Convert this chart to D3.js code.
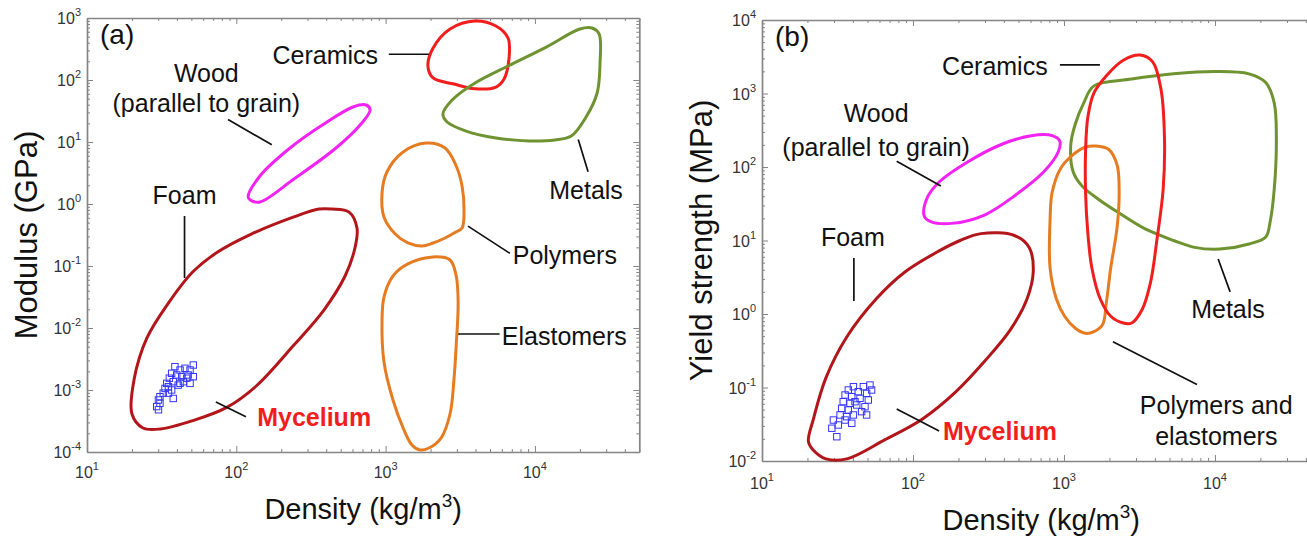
<!DOCTYPE html>
<html>
<head>
<meta charset="utf-8">
<script src="https://cdn.jsdelivr.net/npm/d3@7"></script>
<style>
  body { margin: 0; background: #fff; }
  svg { display: block; font-family: "Liberation Sans", Arial, sans-serif; }
</style>
</head>
<body>
<script>
// ---------- panel (a): modulus (GPa) vs density (kg/m3) ----------
const foamA = [[437,0.83],[569,0.74],[643,0.41],[623,0.195],[535,0.069],[386,0.0195],[243,0.0053],[136,0.00116],[87,0.00053],[51,0.00032],[31,0.000235],[23.7,0.000244],[20,0.00041],[20.7,0.0015],[25.2,0.0069],[35,0.025],[51,0.08],[75,0.168],[127,0.33],[243,0.62],[358,0.83]]
const ceramicsA = [[2080,328],[2700,665],[3970,895],[5480,743],[6600,476],[6700,218],[6210,104],[5480,77],[3970,72],[2870,86],[2080,108],[1920,168]]
const metalsA = [[2420,28.3],[2790,47.5],[3970,89.5],[6600,168],[11900,340],[20000,665],[24100,690],[26900,552],[27300,195],[26100,61.7],[22000,25.3],[17500,12.5],[13600,10.8],[9120,10.4],[5480,11.6],[3460,15],[2580,21]]
const woodA = [[124,1.16],[144,1.08],[243,2.53],[465,8.0],[684,19.5],[787,32.8],[740,39.5],[605,36.7],[386,19.5],[229,8.0],[144,2.83],[120,1.3]]
const polymersA = [[1870,9.6],[2500,8.0],[2970,4.1],[3250,1.95],[3350,0.8],[3250,0.41],[2870,0.34],[2500,0.283],[2080,0.235],[1750,0.21],[1410,0.235],[1160,0.328],[975,0.617],[946,1.5],[1020,3.28],[1310,6.9]]
const elastomersA = [[2080,0.14],[2700,0.125],[2970,0.069],[3060,0.0253],[2970,0.0053],[2870,0.0015],[2700,0.00041],[2350,0.000168],[1950,0.000116],[1700,0.000108],[1500,0.00013],[1310,0.000244],[1120,0.00069],[975,0.00283],[946,0.013],[975,0.0316],[1120,0.069],[1410,0.108]]
const myceliumA = [[51.5,0.00253],[49,0.0021],[38.8,0.00238],[42,0.0021],[45.3,0.00224],[47.6,0.00175],[51.5,0.00164],[43.1,0.00164],[39.9,0.00175],[36.9,0.00186],[35.6,0.00155],[37.8,0.00136],[44.2,0.00136],[49,0.00128],[40.8,0.0012],[34.2,0.00128],[33.3,0.00106],[36.9,0.001],[32.4,0.00089],[35.1,0.00089],[30.8,0.00078],[37.8,0.00073],[30.1,0.00069],[30.8,0.00061],[29.3,0.00054],[30.1,0.00048],[46.6,0.00155],[42,0.00128],[35.1,0.00113]]
const xTicksA = [10, 100, 1000, 10000]
const yTicksA = [1e-4, 1e-3, 1e-2, 1e-1, 1, 10, 100, 1000]
const labelsA = [
  {t: "Ceramics", at: [890, 250], anchor: "end"},
  {t: "Wood", at: [63, 130], anchor: "middle"},
  {t: "(parallel to grain)", at: [63, 42], anchor: "middle"},
  {t: "Foam", at: [45, 1.4], anchor: "middle"},
  {t: "Metals", at: [22000, 1.7], anchor: "middle"},
  {t: "Polymers", at: [7100, 0.15], anchor: "start"},
  {t: "Elastomers", at: [6000, 0.0074], anchor: "start"},
  {t: "Mycelium", at: [138, 0.00037], anchor: "start", red: true}
]
const leadersA = [
  [[1050,260],[1950,260]],
  [[88,23],[173,9]],
  [[45,0.64],[45,0.064]],
  [[19500,11],[22700,3.3]],
  [[3560,0.44],[6800,0.16]],
  [[3060,0.008],[5800,0.008]],
  [[73,0.00064],[116,0.00037]]
]

// ---------- panel (b): yield strength (MPa) vs density (kg/m3) ----------
const foamB = [[282,12.4],[470,11.7],[588,8.06],[626,3.78],[569,1.6],[441,0.608],[300,0.231],[192,0.0873],[115,0.0371],[64.9,0.0194],[36.5,0.0107],[26.5,0.0107],[21.9,0.014],[20.3,0.0184],[21.9,0.0371],[26.5,0.135],[36.5,0.49],[57,1.6],[89.3,3.78],[149,7.22],[205,10]]
const ceramicsB = [[3200,3340],[3870,2690],[4390,1140],[4630,252],[4540,50.2],[4120,10],[3750,2.74],[3300,1.16],[2810,0.755],[2470,0.755],[2040,0.933],[1740,1.6],[1530,4.23],[1440,12.4],[1390,45.1],[1390,164],[1440,482],[1580,1020],[1910,1750],[2470,2840]]
const metalsB = [[1580,1270],[2810,1570],[5320,1850],[10100,1990],[16800,1850],[21700,1410],[24700,740],[25500,252],[24700,50.2],[23100,17.1],[21700,11.2],[16800,8.96],[10800,7.64],[7330,8.06],[5320,10],[3400,14.6],[2320,23.6],[1690,36.4],[1310,55.8],[1150,86],[1110,204],[1190,388],[1350,740]]
const woodB = [[119,21.2],[131,18.1],[180,17.1],[300,22.4],[470,40.5],[735,86],[920,164],[937,226],[835,267],[607,267],[388,204],[233,119],[149,62.4],[123,36.4]]
const polyElastB = [[1630,193],[1980,173],[2250,106],[2320,45.1],[2250,15.3],[2040,4.23],[1910,1.44],[1800,0.715],[1580,0.576],[1390,0.546],[1190,0.641],[1010,0.933],[891,1.6],[809,4.23],[809,19.1],[835,45.1],[950,95.7],[1150,147.5],[1390,187]]
const myceliumB = [[51.9,0.108],[46.9,0.1026],[40.3,0.1026],[37.3,0.0925],[43.4,0.0877],[49.3,0.0834],[35.5,0.0791],[39.3,0.075],[44.6,0.0713],[50.6,0.0676],[34.5,0.0641],[38.3,0.061],[42.4,0.0578],[48.1,0.0548],[33.7,0.0521],[37.3,0.0494],[45.7,0.0469],[32.9,0.0423],[40.3,0.0423],[49.3,0.0423],[29.7,0.0361],[35.5,0.0361],[32,0.0309],[39.3,0.0326],[29,0.0279],[31.3,0.0214],[53.2,0.0925],[41.3,0.0641],[36.4,0.0401]]
const xTicksB = [10, 100, 1000, 10000]
const yTicksB = [1e-2, 1e-1, 1, 10, 100, 1000, 10000]
const labelsB = [
  {t: "Ceramics", at: [780, 2400], anchor: "end"},
  {t: "Wood", at: [57, 540], anchor: "middle"},
  {t: "(parallel to grain)", at: [57, 190], anchor: "middle"},
  {t: "Foam", at: [40, 11], anchor: "middle"},
  {t: "Metals", at: [12200, 1.17], anchor: "middle"},
  {t: "Polymers and", at: [10200, 0.058], anchor: "middle"},
  {t: "elastomers", at: [10200, 0.022], anchor: "middle"},
  {t: "Mycelium", at: [158, 0.0256], anchor: "start", red: true}
]
const leadersB = [
  [[940,2450],[1730,2450]],
  [[78,120],[153,55]],
  [[40.6,5.8],[40.6,1.5]],
  [[10500,5.6],[12600,2.0]],
  [[2110,0.42],[7600,0.11]],
  [[78,0.051],[149,0.0256]]
]

const col = {foam: "#b3161a", ceramics: "#f21d1d", metals: "#6f9331", wood: "#f222f2", poly: "#e67c22", myc: "#3535ff", frame: "#858585"}

const svg = d3.select("body").append("svg").attr("width", 1307).attr("height", 539)

const panels = [
  {
    x: d3.scaleLog().domain([10, 5e4]).range([87, 639.3]),
    y: d3.scaleLog().domain([1e-4, 1e3]).range([452, 18]),
    tag: "(a)", yTitle: "Modulus (GPa)", yTitleX: 37, xTitleY: 519, xLabDy: 26,
    xTicks: xTicksA, yTicks: yTicksA,
    regions: [[foamA, col.foam], [ceramicsA, col.ceramics], [metalsA, col.metals], [woodA, col.wood], [polymersA, col.poly], [elastomersA, col.poly]],
    pts: myceliumA, labels: labelsA, leaders: leadersA
  },
  {
    x: d3.scaleLog().domain([10, 5e4]).range([762, 1320.5]),
    y: d3.scaleLog().domain([1e-2, 1e4]).range([461, 20]),
    tag: "(b)", yTitle: "Yield strength (MPa)", yTitleX: 712, xTitleY: 530, xLabDy: 28,
    xTicks: xTicksB, yTicks: yTicksB,
    regions: [[foamB, col.foam], [woodB, col.wood], [metalsB, col.metals], [polyElastB, col.poly], [ceramicsB, col.ceramics]],
    pts: myceliumB, labels: labelsB, leaders: leadersB
  }
]

const isMajor = v => Math.abs(Math.log10(v) - Math.round(Math.log10(v))) < 1e-9

panels.forEach(p => {
  const g = svg.append("g")
  const [x0, x1] = p.x.range()
  const [y0, y1] = p.y.range()

  // frame with inward log ticks on all four sides
  const axes = [
    [d3.axisBottom(p.x), `translate(0,${y0})`, p.x.ticks(), "y2", -1],
    [d3.axisTop(p.x), `translate(0,${y1})`, p.x.ticks(), "y2", 1],
    [d3.axisLeft(p.y), `translate(${x0},0)`, p.y.ticks(), "x2", 1],
    [d3.axisRight(p.y), `translate(${x1},0)`, p.y.ticks(), "x2", -1]
  ]
  axes.forEach(([ax, tr, vals, attr, sgn]) => {
    const a = g.append("g").attr("transform", tr)
      .call(ax.tickValues(vals).tickFormat("").tickSizeOuter(0).tickSizeInner(-6))
    a.select(".domain").attr("stroke", col.frame).attr("stroke-width", 1.7)
    a.selectAll(".tick line").attr("stroke", col.frame).attr("stroke-width", 1)
      .attr(attr, d => sgn * (isMajor(d) ? 6 : 3))
    a.selectAll(".tick text").remove()
  })

  // material regions
  const line = d3.line().x(d => p.x(d[0])).y(d => p.y(d[1])).curve(d3.curveCatmullRomClosed.alpha(0.5))
  p.regions.forEach(([pts, c]) => {
    g.append("path").attr("d", line(pts)).attr("fill", "none")
      .attr("stroke", c).attr("stroke-width", 3).attr("stroke-linejoin", "round")
  })

  // mycelium samples
  g.selectAll("rect.myc").data(p.pts).join("rect").attr("class", "myc")
    .attr("x", d => p.x(d[0]) - 3.2).attr("y", d => p.y(d[1]) - 3.2)
    .attr("width", 6.4).attr("height", 6.4)
    .attr("fill", "none").attr("stroke", col.myc).attr("stroke-width", 1)

  // leader lines
  p.leaders.forEach(l => {
    g.append("line").attr("x1", p.x(l[0][0])).attr("y1", p.y(l[0][1]))
      .attr("x2", p.x(l[1][0])).attr("y2", p.y(l[1][1]))
      .attr("stroke", "#111").attr("stroke-width", 1.7)
  })

  // region labels
  g.selectAll("text.lab").data(p.labels).join("text").attr("class", "lab")
    .attr("x", d => p.x(d.at[0])).attr("y", d => p.y(d.at[1]))
    .attr("text-anchor", d => d.anchor).attr("dominant-baseline", "central")
    .attr("font-size", 25).attr("font-weight", d => d.red ? "bold" : "normal")
    .attr("fill", d => d.red ? "#f21d1d" : "#111")
    .text(d => d.t)

  // tick labels 10^n
  const pow = (sel) => sel.each(function(d) {
    const t = d3.select(this)
    t.append("tspan").text("10")
    t.append("tspan").attr("dy", -8).attr("font-size", 11).text(Math.round(Math.log10(d)))
  })
  g.selectAll("text.xl").data(p.xTicks).join("text").attr("class", "xl")
    .attr("x", d => p.x(d)).attr("y", y0 + p.xLabDy)
    .attr("text-anchor", "middle").attr("font-size", 16).attr("fill", "#333")
    .call(pow)
  g.selectAll("text.yl").data(p.yTicks).join("text").attr("class", "yl")
    .attr("x", x0 - 6).attr("y", d => p.y(d) + 6)
    .attr("text-anchor", "end").attr("font-size", 16).attr("fill", "#333")
    .call(pow)

  // panel tag
  g.append("text").attr("x", x0 + 13).attr("y", y1 + 26)
    .attr("font-size", 28).attr("fill", "#111").text(p.tag)

  // axis titles
  const xt = g.append("text").attr("x", (x0 + x1) / 2).attr("y", p.xTitleY)
    .attr("text-anchor", "middle").attr("font-size", 29).attr("fill", "#111")
  xt.append("tspan").text("Density (kg/m")
  xt.append("tspan").attr("dy", -12).attr("font-size", 19).text("3")
  xt.append("tspan").attr("dy", 12).text(")")

  g.append("text")
    .attr("transform", `translate(${p.yTitleX},${(y0 + y1) / 2}) rotate(-90)`)
    .attr("text-anchor", "middle").attr("font-size", 31).attr("fill", "#111")
    .text(p.yTitle)
})
</script>
</body>
</html>
